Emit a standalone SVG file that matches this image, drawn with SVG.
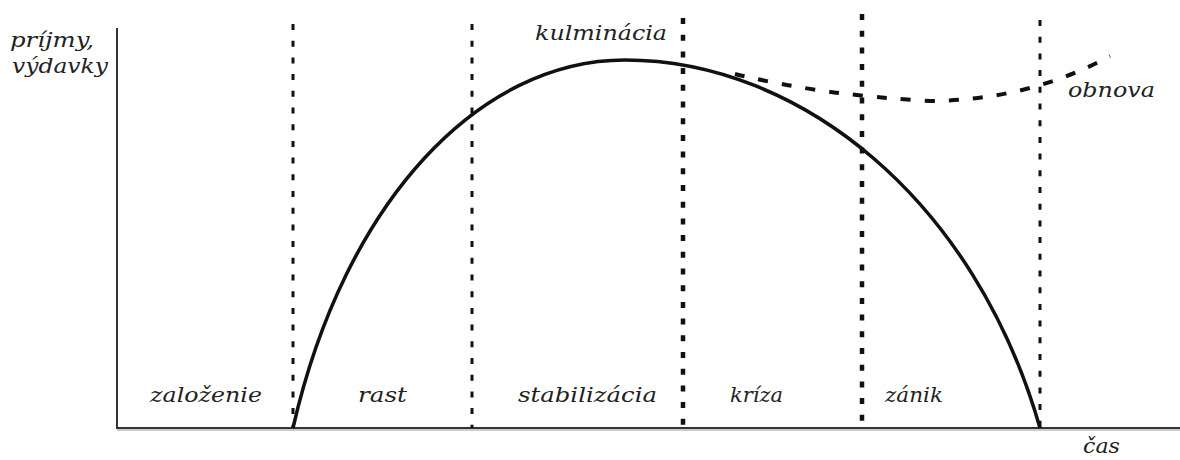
<svg xmlns="http://www.w3.org/2000/svg" width="1180" height="460" viewBox="0 0 1180 460">
<style>
.lbl{font-family:"DejaVu Serif","Liberation Serif",serif;font-style:italic;font-size:21px;fill:#222}
.axis{stroke:#333;fill:none}
.dot{stroke:#111;stroke-width:3;stroke-dasharray:6 10.7;fill:none}
.dotb{stroke:#111;stroke-width:4.5;stroke-dasharray:6 10.7;fill:none}
.curve{stroke:#111;stroke-width:3.5;fill:none}
.dash{stroke:#111;stroke-width:4;stroke-dasharray:10 14;fill:none}
</style>
<rect width="1180" height="460" fill="#fff"/>
<g id="axes">
<line class="axis" x1="117" y1="28" x2="117" y2="429" stroke-width="2"/>
<line x1="117" y1="430" x2="1180" y2="430" stroke="#ccc" stroke-width="2"/>
<line class="axis" x1="116" y1="428" x2="1180" y2="428" stroke-width="2.2"/>
</g>
<g id="dividers">
<line class="dot" x1="293" y1="24" x2="293" y2="428"/>
<line class="dot" x1="472" y1="24" x2="472" y2="428"/>
<line class="dotb" x1="683" y1="18" x2="683" y2="428"/>
<line class="dotb" x1="862" y1="14" x2="862" y2="428"/>
<line class="dot" x1="1040" y1="20" x2="1040" y2="428"/>
</g>
<g id="connectors">
<path id="lifecycle" class="curve" d="M293,428 C345,200 480,60 625,60 C800,60 975,200 1040,428"/>
<path id="renewal" class="dash" d="M735,74 Q820,95 930,101 Q1030,100 1110,56"/>
</g>
<g id="labels">
<text class="lbl" x="10" y="47" textLength="84" lengthAdjust="spacingAndGlyphs">príjmy,</text>
<text class="lbl" x="12" y="73" textLength="96" lengthAdjust="spacingAndGlyphs">výdavky</text>
<text class="lbl" x="535" y="40" textLength="132" lengthAdjust="spacingAndGlyphs">kulminácia</text>
<text class="lbl" x="1068" y="97" textLength="87" lengthAdjust="spacingAndGlyphs">obnova</text>
<text class="lbl" x="150" y="402" textLength="112" lengthAdjust="spacingAndGlyphs">založenie</text>
<text class="lbl" x="358" y="402" textLength="49" lengthAdjust="spacingAndGlyphs">rast</text>
<text class="lbl" x="518" y="402" textLength="139" lengthAdjust="spacingAndGlyphs">stabilizácia</text>
<text class="lbl" x="730" y="402" textLength="53" lengthAdjust="spacingAndGlyphs">kríza</text>
<text class="lbl" x="885" y="402" textLength="58" lengthAdjust="spacingAndGlyphs">zánik</text>
<text class="lbl" x="1083" y="453" textLength="37" lengthAdjust="spacingAndGlyphs">čas</text>
</g>
</svg>
